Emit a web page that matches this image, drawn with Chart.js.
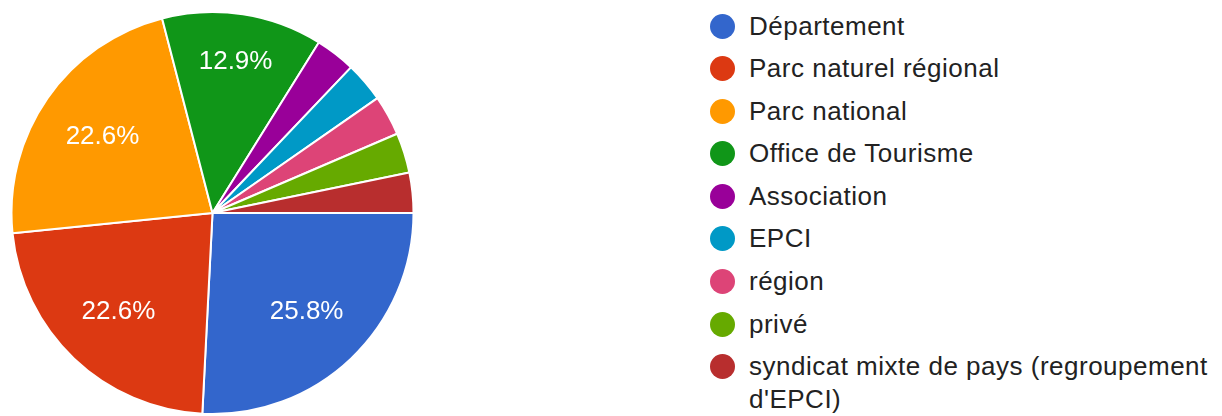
<!DOCTYPE html>
<html>
<head>
<meta charset="utf-8">
<script src="https://cdn.jsdelivr.net/npm/chart.js@4/dist/chart.umd.min.js"></script>
<style>
  html, body { margin: 0; padding: 0; background: #fff; overflow: hidden; }
  #page { position: relative; width: 1222px; height: 416px; }
  #pieBox { position: absolute; left: 10px; top: 11px; width: 405px; height: 404px; }
  #legend {
    position: absolute; left: 710px; top: 9.5px; width: 505px;
    margin: 0; padding: 0; list-style: none;
    font-family: "Liberation Sans", Arial, sans-serif; font-size: 26px;
    letter-spacing: 0.5px; color: #222;
  }
  #legend li { display: flex; align-items: flex-start; margin-bottom: 9.6px; line-height: 33px; }
  #legend .dot { flex: 0 0 25px; width: 25px; height: 25px; border-radius: 50%; margin-top: 4px; margin-right: 14px; }
  #legend .txt { flex: 1 1 auto; }
</style>
</head>
<body>
<div id="page">
  <div id="pieBox"><canvas id="pieChart"></canvas></div>
  <ul id="legend"></ul>
</div>
<script>
// answers per category (31 responses)
const categories = [
    'Département',
    'Parc naturel régional',
    'Parc national',
    'Office de Tourisme',
    'Association',
    'EPCI',
    'région',
    'privé',
    "syndicat mixte de pays (regroupement d'EPCI)"
];
const counts = [8, 7, 7, 4, 1, 1, 1, 1, 1];

const sliceColors = ['#3366cc', '#dc3912', '#ff9900', '#109618', '#990099', '#0099c6', '#dd4477', '#66aa00', '#b82e2e'];

Chart.defaults.font.family = '"Liberation Sans", Arial, sans-serif';

// legend drawn as html list next to the pie (google forms look)
const htmlLegend = {
    id: 'htmlLegend',
    afterUpdate(chart) {
        const ul = document.getElementById('legend');
        ul.innerHTML = '';
        const items = chart.options.plugins.legend.labels.generateLabels(chart);
        items.forEach(item => {
            const li = document.createElement('li');
            const dot = document.createElement('span');
            dot.className = 'dot';
            dot.style.background = item.fillStyle;
            const txt = document.createElement('span');
            txt.className = 'txt';
            txt.textContent = item.text;
            li.appendChild(dot);
            li.appendChild(txt);
            ul.appendChild(li);
        });
    }
};

// percentage labels inside the bigger slices
const sliceLabels = {
    id: 'sliceLabels',
    afterDatasetsDraw(chart) {
        const ctx = chart.ctx;
        const meta = chart.getDatasetMeta(0);
        const total = counts.reduce((a, b) => a + b, 0);
        ctx.save();
        ctx.font = '26px "Liberation Sans", Arial, sans-serif';
        ctx.fillStyle = '#ffffff';
        ctx.textAlign = 'center';
        ctx.textBaseline = 'middle';
        meta.data.forEach((arc, i) => {
            const share = counts[i] / total;
            if (share < 0.05) return;  // google hides small ones
            const p = arc.getProps(['x', 'y', 'startAngle', 'endAngle', 'outerRadius'], true);
            const mid = (p.startAngle + p.endAngle) / 2;
            const text = (share * 100).toFixed(1) + '%';
            const w = ctx.measureText(text).width;
            const h = 30;
            // keep the text box inside the slice
            const ext = (w / 2) * Math.abs(Math.cos(mid)) + (h / 2) * Math.abs(Math.sin(mid));
            const r = p.outerRadius * 0.86 - ext;
            ctx.fillText(text, p.x + Math.cos(mid) * r, p.y + Math.sin(mid) * r);
        });
        ctx.restore();
    }
};

const ctx = document.getElementById('pieChart').getContext('2d');
window.pieChartInstance = new Chart(ctx, {
    type: 'pie',
    data: {
        labels: categories,
        datasets: [{
            data: counts,
            backgroundColor: sliceColors,
            borderColor: '#ffffff',
            borderWidth: 2
        }]
    },
    options: {
        responsive: true,
        maintainAspectRatio: false,
        animation: false,
        rotation: 90,
        plugins: {
            legend: { display: false },
            tooltip: { enabled: false }
        }
    },
    plugins: [htmlLegend, sliceLabels]
});
</script>
</body>
</html>
